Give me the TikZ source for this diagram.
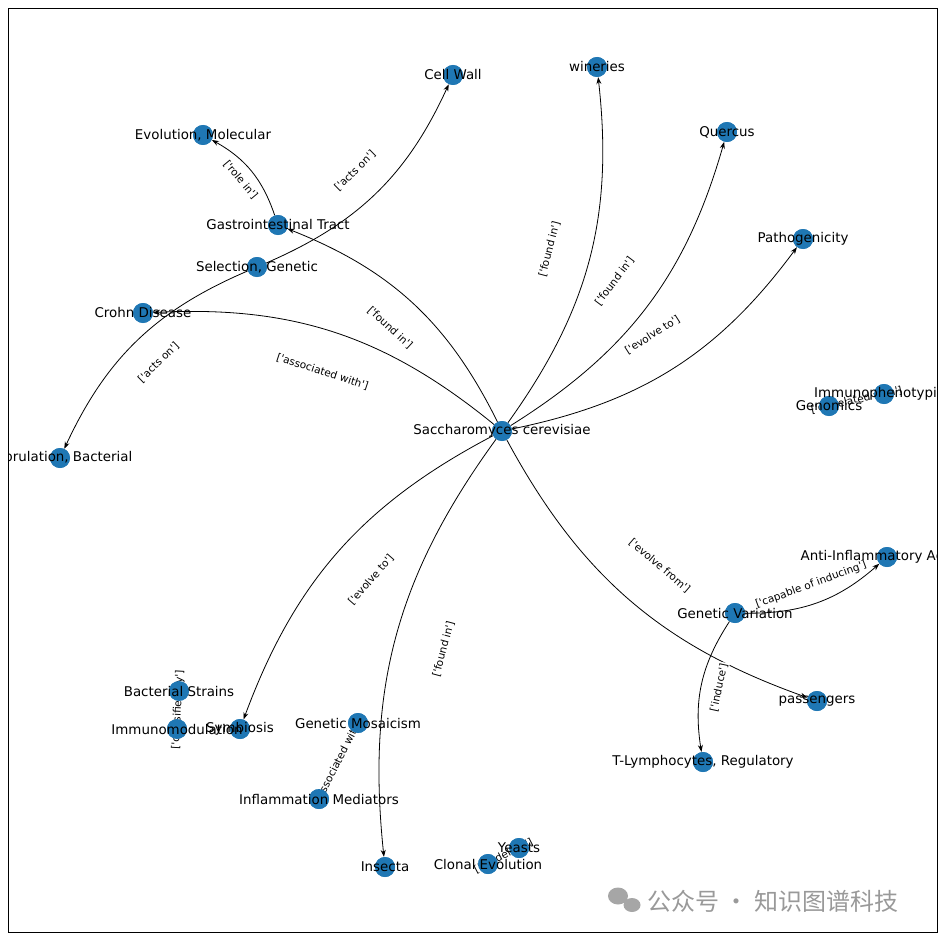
\documentclass[tikz,border=0pt]{standalone}
\usepackage{fontspec}
\setmainfont{DejaVu Sans}
\newfontfamily\cjk{Noto Sans CJK SC}
\usetikzlibrary{arrows.meta}
\definecolor{nb}{HTML}{1F77B4}
\newcommand{\lbq}[1]{[\textquotesingle #1\textquotesingle]}
\begin{document}
\begin{tikzpicture}[x=1pt,y=-1pt,
 n/.style={circle,fill=nb,minimum size=20pt,inner sep=0},
 t/.style={font=\fontsize{13.4}{14}\selectfont,inner sep=0},
 e/.style={-{Stealth[length=7pt,width=5pt]},bend right=21,line width=0.8pt},
 u/.style={line width=0.8pt},
 el/.style={font=\fontsize{10.5}{11}\selectfont,fill=white,inner sep=1pt,sloped}]
\useasboundingbox (0,0) rectangle (945,939);
\begin{scope}
\clip (8,8) rectangle (937,932);
\coordinate (sc) at (502,431);
\coordinate (cw) at (453,75);
\coordinate (wi) at (597,67);
\coordinate (qu) at (727,132);
\coordinate (pa) at (803,239);
\coordinate (em) at (203,135);
\coordinate (gi) at (278,225);
\coordinate (sg) at (257,267);
\coordinate (cd) at (143,313);
\coordinate (sb) at (60,458);
\coordinate (ge) at (829,406);
\coordinate (im) at (884,394);
\coordinate (ai) at (887,557);
\coordinate (gv) at (735,613);
\coordinate (ps) at (817,701);
\coordinate (tl) at (703,762);
\coordinate (bs) at (179,691);
\coordinate (imm) at (177,729);
\coordinate (sy) at (240,729);
\coordinate (gm) at (358,723);
\coordinate (inf) at (319,799);
\coordinate (in) at (385,867);
\coordinate (ye) at (519,848);
\coordinate (ce) at (488,864);
\foreach \c in {sc,cw,wi,qu,pa,em,gi,sg,cd,sb,ge,im,ai,gv,ps,tl,bs,imm,sy,gm,inf,in,ye,ce}
  \node[n] (N\c) at (\c) {};
% edges
\draw[e] (Nsg) to (Ncw);
\draw[e] (Nsg) to (Nsb);
\draw[e] (Ngi) to (Nem);
\draw[e] (Nsc) to (Ngi);
\draw[e] (Nsc) to (Ncd);
\draw[e] (Nsc) to (Nwi);
\draw[e] (Nsc) to (Nqu);
\draw[e] (Nsc) to (Npa);
\draw[e] (Nsc) to (Nsy);
\draw[e] (Nsc) to (Nin);
\draw[e] (Nsc) to (Nps);
\draw[e] (Ngv) to (Nai);
\draw[e] (Ngv) to (Ntl);
\draw[u] (Nbs) -- (Nimm);
\draw[u] (Ngm) -- (Ninf);
\draw[u] (Nge) -- (Nim);
\draw[u] (Nce) -- (Nye);
% edge labels
\path (sg) -- node[el]{\lbq{acts on}} (cw);
\path (sg) -- node[el]{\lbq{acts on}} (sb);
\path (gi) -- node[el]{\lbq{role in}} (em);
\path (sc) -- node[el]{\lbq{found in}} (gi);
\path (sc) -- node[el]{\lbq{associated with}} (cd);
\path (sc) -- node[el]{\lbq{found in}} (wi);
\path (sc) -- node[el]{\lbq{found in}} (qu);
\path (sc) -- node[el]{\lbq{evolve to}} (pa);
\path (sc) -- node[el]{\lbq{evolve to}} (sy);
\path (sc) -- node[el]{\lbq{found in}} (in);
\path (sc) -- node[el]{\lbq{evolve from}} (ps);
\path (gv) -- node[el]{\lbq{capable of inducing}} (ai);
\path (gv) -- node[el]{\lbq{induce}} (tl);
\path (bs) -- node[el]{\lbq{classified by}} (imm);
\path (gm) -- node[el]{\lbq{associated with}} (inf);
\path (ge) -- node[el]{\lbq{correlated with}} (im);
\path (ce) -- node[el]{\lbq{model for}} (ye);
% nodes on top
\foreach \c in {sc,cw,wi,qu,pa,em,gi,sg,cd,sb,ge,im,ai,gv,ps,tl,bs,imm,sy,gm,inf,in,ye,ce}
  \node[n] at (\c) {};
\node[t] (Tsc) at (sc) {Saccharomyces cerevisiae};
\node[t] (Tcw) at (cw) {Cell Wall};
\node[t] (Twi) at (wi) {wineries};
\node[t] (Tqu) at (qu) {Quercus};
\node[t] (Tpa) at (pa) {Pathogenicity};
\node[t] (Tem) at (em) {Evolution, Molecular};
\node[t] (Tgi) at (gi) {Gastrointestinal Tract};
\node[t] (Tsg) at (sg) {Selection, Genetic};
\node[t] (Tcd) at (cd) {Crohn Disease};
\node[t] (Tsb) at (sb) {Sporulation, Bacterial};
\node[t] (Tge) at (ge) {Genomics};
\node[t] (Tim) at (im) {Immunophenotyping};
\node[t] (Tai) at (ai) {Anti-Inflammatory Agents};
\node[t] (Tgv) at (gv) {Genetic Variation};
\node[t] (Tps) at (ps) {passengers};
\node[t] (Ttl) at (tl) {T-Lymphocytes, Regulatory};
\node[t] (Tbs) at (bs) {Bacterial Strains};
\node[t] (Timm) at (imm) {Immunomodulation};
\node[t] (Tsy) at (sy) {Symbiosis};
\node[t] (Tgm) at (gm) {Genetic Mosaicism};
\node[t] (Tinf) at (inf) {Inflammation Mediators};
\node[t] (Tin) at (in) {Insecta};
\node[t] (Tye) at (ye) {Yeasts};
\node[t] (Tce) at (ce) {Clonal Evolution};
\end{scope}
\draw[line width=0.8pt] (8,8) rectangle (937,932);
\node[font=\cjk\fontsize{24}{26}\selectfont,text=black!40,anchor=west] (wm) at (644,901) {公众号 · 知识图谱科技};
\fill[black!35] (618,896) ellipse (10 and 8.5);
\fill[black!35] (632,905) ellipse (8.5 and 7);
\end{tikzpicture}
\end{document}
